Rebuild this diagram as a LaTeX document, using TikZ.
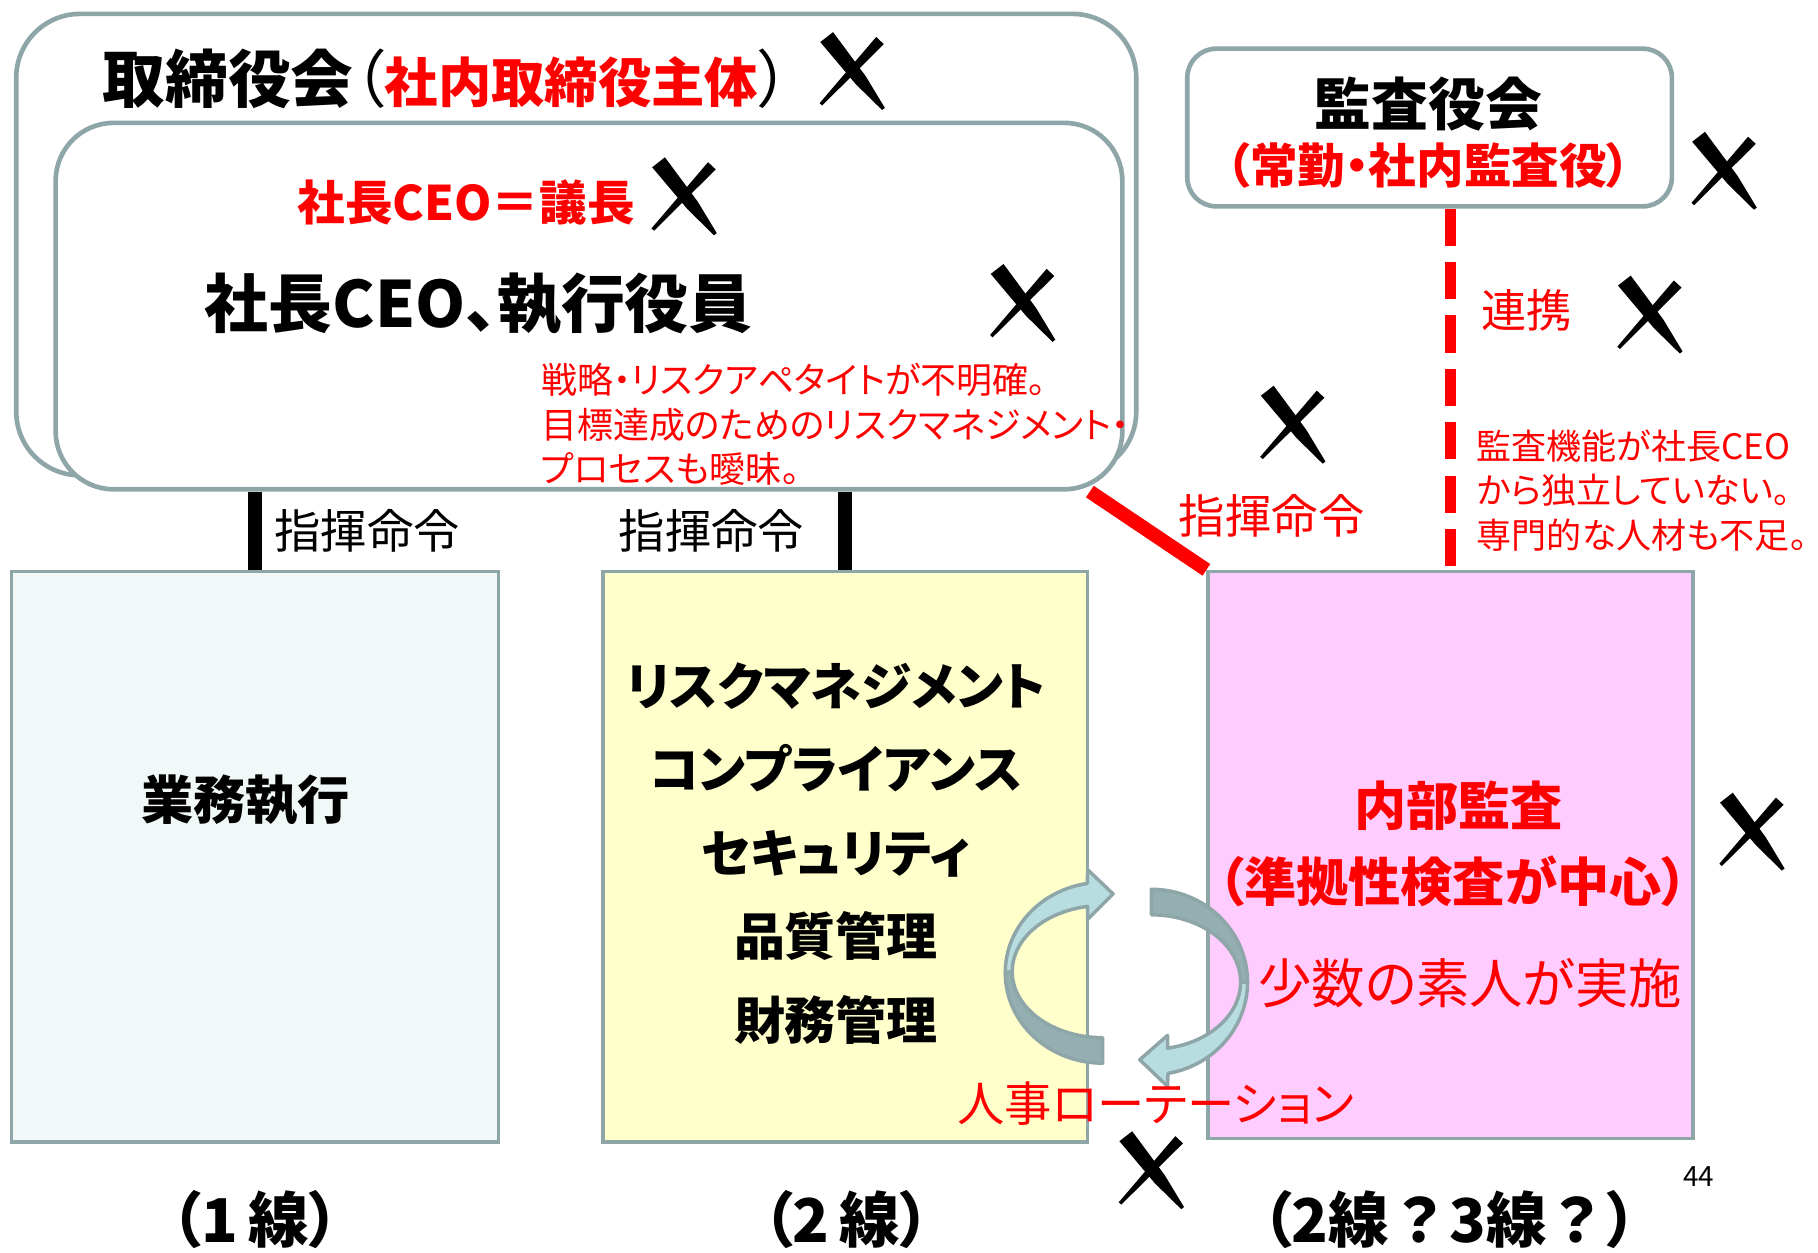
\documentclass[tikz,border=0pt]{standalone}
\usepackage{fontspec}
\setmainfont{Noto Sans CJK JP}[RawFeature=+palt]
\newfontfamily\fullwidth{Noto Sans CJK JP}
\usetikzlibrary{arrows.meta,backgrounds,fit,positioning}
\definecolor{edgegray}{HTML}{8EA6A8}
\definecolor{mintfill}{HTML}{F0F8F8}
\definecolor{creamfill}{HTML}{FFFFCC}
\definecolor{pinkfill}{HTML}{FFCCFF}
\definecolor{ribbonlight}{HTML}{B8DDE0}
\definecolor{ribbondark}{HTML}{94AFB1}
\definecolor{warnred}{HTML}{FF0000}
\newcommand{\fsz}[2]{\fontsize{#1pt}{#2pt}\selectfont}
\tikzset{
  batsu/.pic={
    \fill (-16.5,-34.3) -- (11.7,3.8) -- (28.2,31.1) -- (25.8,32.9) -- (3.1,10.6) -- (-27.5,-25.7) -- cycle;
    \fill (20.7,-30.1) -- (27.3,-23.9) -- (-25.9,29) -- (-28.1,27) -- cycle;
  },
  frontribbon/.style={fill=ribbonlight, draw=edgegray, line width=0.03cm, line join=round},
  rearribbon/.style={fill=ribbondark, draw=edgegray, line width=0.03cm, line join=round}
}
\begin{document}
\begin{tikzpicture}[x=0.01cm, y=-0.01cm]
  \useasboundingbox (0,0) rectangle (1568,1080);
  \begin{scope}[every node/.style={draw=edgegray, line width=0.04cm, inner sep=0pt, fill=white}]
    \node[rounded corners=0.55cm, fit={(14,12) (980,410)}] (board) {};
    \node[rounded corners=0.5cm, fit={(48,106) (968,422)}] (execbox) {};
    \node[rounded corners=0.25cm, fit={(1024,42) (1442,178)}] (kansa) {};
    \node[line width=0.03cm, fill=mintfill, fit={(10,493) (430,985)}] (line1) {};
    \node[line width=0.03cm, fill=creamfill, fit={(520,493) (938,985)}] (line2) {};
    \node[line width=0.03cm, fill=pinkfill, fit={(1042,493) (1460,982)}] (audit) {};
  \end{scope}
  \begin{scope}[on background layer, every edge/.style={draw, line width=0.12cm}]
    \path (line1.north |- execbox.south) edge[black] (line1.north);
    \path (line2.north |- execbox.south) edge[black] (line2.north);
    \path ([xshift=-0.3cm]execbox.south east) edge[warnred] (audit.north west);
    \path (audit.north |- kansa.south) edge[warnred, line width=0.1cm, dash pattern=on 0.32cm off 0.14cm] (audit.north);
  \end{scope}
  \filldraw[rearribbon] plot[domain=90:180, samples=30] ({951+84*cos(\x)}, {839+78*sin(\x)})
    -- plot[domain=180:90, samples=30] ({951+78*cos(\x)}, {838+57*sin(\x)}) -- cycle;
  \filldraw[frontribbon] plot[domain=180:261, samples=30] ({951+84*cos(\x)}, {839+78*sin(\x)})
    -- (938,750) -- (960,771) -- (938,793)
    -- plot[domain=260.4:180, samples=30] ({951+78*cos(\x)}, {838+57*sin(\x)}) -- cycle;
  \filldraw[rearribbon] plot[domain=-90:0, samples=30] ({993+83*cos(\x)}, {847+80*sin(\x)})
    -- plot[domain=0:-90, samples=30] ({993+77*cos(\x)}, {847+58*sin(\x)}) -- cycle;
  \filldraw[frontribbon] plot[domain=0:80, samples=30] ({993+83*cos(\x)}, {847+80*sin(\x)})
    -- (1007,937) -- (983,914) -- (1007,893)
    -- plot[domain=79.5:0, samples=30] ({993+77*cos(\x)}, {847+58*sin(\x)}) -- cycle;
  \begin{scope}[every node/.style={inner sep=0pt}]
    \node[anchor=west, font=\fsz{15.36}{18}] (boardtitle) at (88,68) {\bfseries 取締役会\mdseries（\textcolor{warnred}{\bfseries\fsz{13.09}{16}社内取締役主体}）};
    \node[anchor=west, text=warnred, font=\bfseries\fsz{11.67}{14}] (chair) at (256,175) {社長CEO＝議長};
    \node[anchor=west, font=\bfseries\fsz{15.65}{18}] (officers) at (176,262) {社長CEO、執行役員};
    \node[anchor=west, align=left, text=warnred, font=\fsz{8.82}{10.81}] (appetite) at (466,366) {戦略・リスクアペタイトが不明確。\\目標達成のためのリスクマネジメント・\\プロセスも曖昧。};
    \node[anchor=west, font=\fsz{11.38}{13}] (cmd1) at (236,458) {指揮命令};
    \node[anchor=west, font=\fsz{11.38}{13}] (cmd2) at (533,458) {指揮命令};
    \node[anchor=west, text=warnred, font=\fsz{11.38}{13}] (cmd3) at (1016,445) {指揮命令};
    \node[font=\bfseries\fsz{13.94}{16}] (kansatitle) at (1232,90) {監査役会};
    \node[text=warnred, font=\bfseries\fsz{11.67}{14}] (kansasub) at (1232,143) {（常勤・社内監査役）};
    \node[anchor=west, text=warnred, font=\fsz{11.1}{13}] (renkei) at (1277,268) {連携};
    \node[anchor=west, align=left, text=warnred, font=\fsz{8.6}{10.95}] (independence) at (1273,423) {監査機能が社長CEO\\から独立していない。\\専門的な人材も不足。};
    \node[font=\bfseries\fsz{12.8}{15}] (gyomu) at (212,690) {業務執行};
    \node[align=center, font=\bfseries\fsz{12.5}{20.49}] (functions) at (721,736) {リスクマネジメント\\コンプライアンス\\セキュリティ\\品質管理\\財務管理};
    \node[text=warnred, font=\bfseries\fsz{12.8}{15}] (naibu) at (1258,695) {内部監査};
    \node[text=warnred, font=\bfseries\fsz{12.8}{15}] (junkyo) at (1253,760) {（準拠性検査が中心）};
    \node[text=warnred, font=\fsz{13.09}{15}] (shiroto) at (1268,848) {少数の素人が実施};
    \node[text=warnred, font=\fsz{11.6}{14}] (rotation) at (997,952) {人事ローテーション};
    \node[font=\bfseries\fsz{14.8}{17}] (first) at (220,1052) {（1\,線）};
    \node[font=\bfseries\fsz{14.8}{17}] (second) at (730,1052) {（2\,線）};
    \node[font=\bfseries\fsz{14.8}{17}] (third) at (1250,1052) {（2線{\fullwidth ？}3線{\fullwidth ？}）};
    \node[font=\fsz{6.83}{8}] (pageno) at (1465,1015) {44};
  \end{scope}
  \pic at (735,62) {batsu};
  \pic at (590,170) {batsu};
  \pic at (882,262) {batsu};
  \pic at (1115,367) {batsu};
  \pic at (1487,148) {batsu};
  \pic at (1423,272) {batsu};
  \pic at (1511,718) {batsu};
  \pic at (993,1010) {batsu};
\end{tikzpicture}
\end{document}
